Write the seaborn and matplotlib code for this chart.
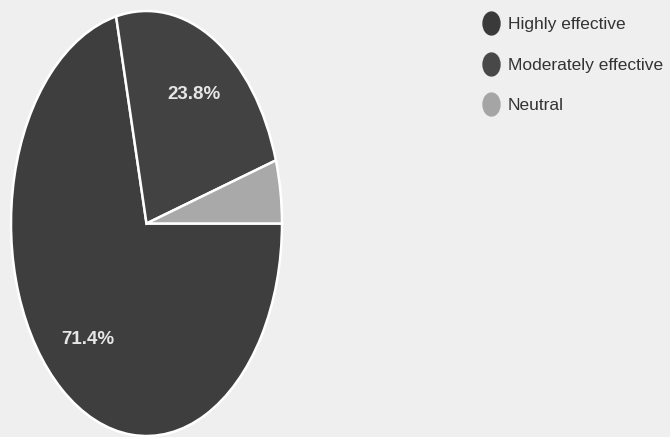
import matplotlib
matplotlib.use('Agg')
import matplotlib.pyplot as plt
import seaborn as sns
from matplotlib.path import Path
from matplotlib.transforms import Affine2D
from matplotlib.lines import Line2D
from matplotlib import font_manager

categories = ['Highly effective', 'Moderately effective', 'Neutral']
values = [71.4, 23.8, 4.8]
slice_colors = ['#3e3e3e', '#424242', '#a9a9a9']
legend_colors = ['#3a3a3a', '#484848', '#a5a5a5']

sns.set_theme(style='white')
names = {f.name for f in font_manager.fontManager.ttflist}
fam = [n for n in ['Liberation Sans Narrow', 'Liberation Sans', 'DejaVu Sans'] if n in names]
plt.rcParams['font.family'] = fam

fig = plt.figure(figsize=(6.7, 4.37), dpi=100)
bg = '#efefef'
fig.patch.set_facecolor(bg)
ax = fig.add_axes([11/670, 1/437, 271/670, 425/437])
ax.set_facecolor('none')

wedges, texts, autotexts = ax.pie(
    values, colors=slice_colors, startangle=0, counterclock=False,
    autopct=lambda p: f'{p:.1f}%' if p > 10 else '', pctdistance=0.7,
    wedgeprops=dict(edgecolor='white', linewidth=1.8),
    textprops=dict(color='#e6e6e6', fontsize=13.5, fontweight='bold'))
ax.set_aspect('auto')
ax.set_xlim(-1, 1)
ax.set_ylim(-1, 1)

mk = Path.unit_circle().transformed(Affine2D().scale(1, 1.35))
handles = [Line2D([], [], linestyle='none', marker=mk, markersize=16.5,
                  markerfacecolor=c, markeredgecolor=c) for c in legend_colors]
leg = fig.legend(handles, categories, loc='upper left',
                 bbox_to_anchor=(482/670, 1 - 17/437), frameon=False,
                 fontsize=12.5, labelspacing=1.47, handletextpad=0.48,
                 handlelength=1.0, borderpad=0, borderaxespad=0)
for t in leg.get_texts():
    t.set_color('#333333')

fig.savefig('out.png', dpi=100, facecolor=bg)
